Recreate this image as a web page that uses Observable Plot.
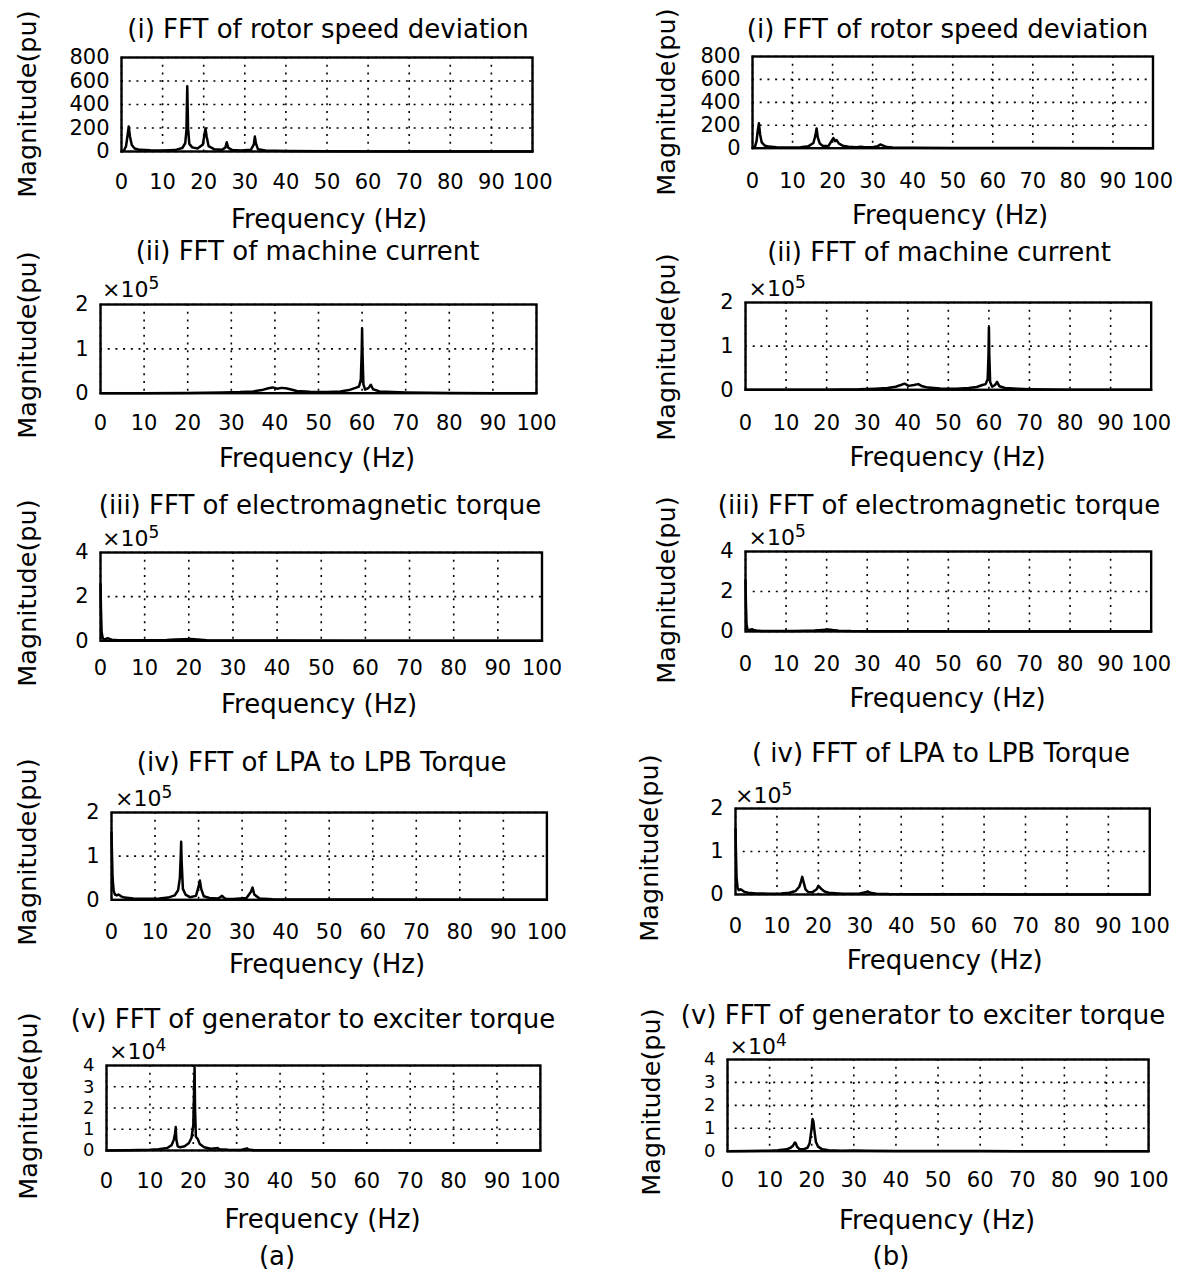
<!DOCTYPE html>
<html>
<head>
<meta charset="utf-8">
<script src="https://cdn.jsdelivr.net/npm/d3@7"></script>
<script src="https://cdn.jsdelivr.net/npm/@observablehq/plot@0.6"></script>
<style>
  html, body { margin: 0; padding: 0; background: #fff; }
  #root { position: relative; width: 1177px; height: 1277px; overflow: hidden; background: #fff;
          font-family: "DejaVu Sans", sans-serif; color: #000; }
  .t { position: absolute; white-space: nowrap; line-height: 1; }
  .sup { font-size: 17px; position: relative; top: -0.45em; line-height: 1; }
</style>
</head>
<body>
<div id="root"></div>
<script>
// ---------------- data ----------------
const freqTicks = [0, 10, 20, 30, 40, 50, 60, 70, 80, 90, 100];

// (i) rotor speed deviation  [Hz, magnitude pu]
const speedA = [[0,0],[0.6,8],[1.1,45],[1.45,130],[1.75,212],[2.05,130],[2.5,55],[3.2,25],[4.5,14],[7,10],[10,8],[13,12],[14.8,30],[15.5,70],[15.8,180],[16.0,556],[16.2,200],[16.5,65],[17.2,35],[18.5,25],[19.8,60],[20.2,150],[20.45,195],[20.7,130],[21.2,45],[22.5,20],[24.5,15],[25.3,35],[25.6,78],[26.0,30],[27,12],[29,8],[31.5,15],[32.2,60],[32.45,127],[32.7,70],[33.2,20],[35,8],[40,4],[50,2],[70,1],[100,0]];
const speedB = [[0,0],[0.6,12],[1.0,60],[1.3,150],[1.6,218],[1.9,120],[2.3,50],[3,24],[4,14],[6,9],[9,7],[12,9],[14,18],[15.2,45],[15.7,110],[16.0,172],[16.3,95],[16.8,40],[17.5,22],[19,20],[19.9,72],[20.2,88],[20.6,62],[21.0,70],[21.6,40],[22.5,22],[24,12],[26,9],[27,12],[28,8],[30,8],[31.3,18],[31.9,32],[32.5,24],[33.5,10],[35,5],[40,3],[50,2],[70,1],[100,0]];

// (ii) machine current
const currentA = [[0,0],[10,0],[20,500],[28,1500],[32,2500],[35,4000],[37,7000],[38.5,11000],[39.5,13000],[40.5,10000],[41.5,12000],[42.5,11000],[43.5,9000],[45,5000],[48,3000],[52,2500],[55,4000],[57,7000],[58.5,12000],[59.3,15000],[59.7,30000],[59.9,90000],[60.0,146000],[60.1,90000],[60.3,20000],[60.7,8000],[61.5,12000],[62.0,19000],[62.5,9000],[64,4000],[67,2500],[70,1500],[75,800],[80,300],[90,100],[100,0]];
const currentB = [[0,0],[10,0],[20,300],[28,1200],[32,2500],[35,4000],[37,7000],[38.3,11000],[39.2,14000],[40.2,9000],[41.5,11000],[42.6,13000],[43.6,8000],[45,5000],[48,3000],[52,2500],[55,4000],[57,6500],[58.4,11000],[59.2,13000],[59.7,25000],[59.9,80000],[60.0,143000],[60.1,80000],[60.3,18000],[60.8,7000],[61.5,11000],[62.0,18000],[62.6,8000],[64,4000],[67,2500],[70,1500],[75,800],[80,300],[90,100],[100,0]];

// (iii) electromagnetic torque
const torqueA = [[0,256000],[0.1,150000],[0.25,40000],[0.5,12000],[0.8,6000],[1.2,8000],[1.6,12000],[2.0,9000],[2.5,5000],[4,3000],[8,2000],[12,2500],[15,4000],[17,6000],[19,7000],[20.5,8000],[22,6000],[24,3000],[28,1500],[40,800],[60,500],[80,300],[100,200]];
const torqueB = [[0,257000],[0.1,140000],[0.25,35000],[0.5,10000],[0.8,6000],[1.2,9000],[1.6,11000],[2.0,8000],[2.6,5000],[4,3000],[8,2000],[12,2500],[15,3500],[17,5000],[19,8000],[20.3,10000],[21.5,7000],[23,4000],[26,2000],[30,1200],[40,700],[60,400],[80,300],[100,200]];

// (iv) LPA to LPB torque
const lpaA = [[0,155000],[0.1,110000],[0.25,50000],[0.5,20000],[0.8,12000],[1.2,10000],[1.6,12000],[2.2,8000],[3,5000],[5,3000],[8,2500],[11,3000],[13,5000],[14.5,10000],[15.3,22000],[15.7,50000],[15.9,100000],[16.0,133000],[16.1,90000],[16.4,25000],[17,12000],[18,6000],[19.4,9000],[20.0,30000],[20.3,44000],[20.6,25000],[21.2,8000],[22.5,4000],[24.5,3000],[25.4,9000],[25.7,6000],[26.2,2500],[28,2000],[31,4000],[32.0,18000],[32.4,28000],[32.8,12000],[34,3000],[37,1500],[45,800],[60,400],[100,0]];
const lpaB = [[0,153000],[0.1,100000],[0.25,40000],[0.5,15000],[0.8,10000],[1.2,12000],[1.6,10000],[2.2,6000],[3,4000],[5,2500],[8,2000],[11,2500],[13,4000],[14.5,8000],[15.4,18000],[15.8,30000],[16.1,41000],[16.4,30000],[16.9,12000],[17.5,6000],[18.5,5000],[19.6,12000],[20.0,20000],[20.3,17000],[20.8,12000],[21.5,7000],[22.5,4000],[24,3000],[26,2000],[28,1500],[30,2500],[31.4,5000],[31.9,7000],[32.5,4000],[34,2000],[37,1000],[45,500],[60,300],[100,0]];

// (v) generator to exciter torque
const genA = [[0,0],[5,100],[10,300],[12,600],[14,1200],[15,2500],[15.5,5000],[15.8,8000],[15.95,11000],[16.1,5000],[16.4,2000],[17,1500],[18,2000],[19,3500],[19.6,6000],[20.0,12000],[20.2,30000],[20.3,39000],[20.4,20000],[20.6,6500],[21.0,5500],[21.5,3000],[22.5,1500],[24,800],[25.3,1000],[25.6,1200],[26,600],[28,300],[31,200],[32.4,1000],[32.7,500],[34,150],[40,80],[60,30],[100,0]];
const genB = [[0,0],[5,50],[10,200],[12,400],[14,800],[15,1500],[15.6,2500],[16.0,3800],[16.2,3500],[16.5,2000],[17,1000],[18,800],[19,1500],[19.5,3500],[19.9,9000],[20.2,14000],[20.4,13000],[20.7,8000],[21.0,4000],[21.5,2000],[22.5,800],[24,400],[27,200],[30,300],[33,200],[40,80],[60,30],[100,0]];

const yTicks800 = [0, 200, 400, 600, 800];
const yTicks2e5 = [0, 100000, 200000];
const yTicks4e5 = [0, 200000, 400000];
const yTicks4e4 = [0, 10000, 20000, 30000, 40000];

const titles = ["(i) FFT of rotor speed deviation", "(ii) FFT of machine current",
  "(iii) FFT of electromagnetic torque", "(iv) FFT of LPA to LPB Torque", "( iv) FFT of LPA to LPB Torque",
  "(v) FFT of generator to exciter torque"];
const xLabel = "Frequency (Hz)";
const yLabel = "Magnitude(pu)";
const captions = ["(a)", "(b)"];

// ---------------- layout ----------------
const panels = [
  {data: speedA, yMax: 800, yTicks: yTicks800, div: 1, exp: null, frame: [121, 532, 57, 151], xTickY: 181, yFont: 21,
   title: titles[0], titleXY: [328, 29], freqXY: [329, 218.5], magXY: [28, 103.5]},
  {data: speedB, yMax: 800, yTicks: yTicks800, div: 1, exp: null, frame: [751.5, 1152, 56, 147.7], xTickY: 180, yFont: 21,
   title: titles[0], titleXY: [947.5, 29], freqXY: [950, 215], magXY: [667, 102]},
  {data: currentA, yMax: 200000, yTicks: yTicks2e5, div: 1e5, exp: "5", expXY: [102, 289.5], frame: [100, 536, 304, 392.7], xTickY: 422, yFont: 21,
   title: titles[1], titleXY: [307.5, 251], freqXY: [317, 457.5], magXY: [28, 345]},
  {data: currentB, yMax: 200000, yTicks: yTicks2e5, div: 1e5, exp: "5", expXY: [748.5, 289], frame: [744.7, 1150.4, 301.7, 389], xTickY: 421.7, yFont: 21,
   title: titles[1], titleXY: [939, 252], freqXY: [947.5, 456.5], magXY: [667, 347]},
  {data: torqueA, yMax: 400000, yTicks: yTicks4e5, div: 1e5, exp: "5", expXY: [102, 539], frame: [100, 541.5, 551.7, 640], xTickY: 667, yFont: 21,
   title: titles[2], titleXY: [320, 505], freqXY: [319, 704], magXY: [28, 593]},
  {data: torqueB, yMax: 400000, yTicks: yTicks4e5, div: 1e5, exp: "5", expXY: [748.5, 538], frame: [744.7, 1150.4, 551, 631], xTickY: 663, yFont: 21,
   title: titles[2], titleXY: [939, 505], freqXY: [947.5, 698], magXY: [667, 590]},
  {data: lpaA, yMax: 200000, yTicks: yTicks2e5, div: 1e5, exp: "5", expXY: [115, 799], frame: [110.6, 546, 811.7, 899], xTickY: 930.7, yFont: 21,
   title: titles[3], titleXY: [321.7, 762], freqXY: [327, 964], magXY: [28, 852]},
  {data: lpaB, yMax: 200000, yTicks: yTicks2e5, div: 1e5, exp: "5", expXY: [735, 795.5], frame: [735.3, 1149.6, 808, 894], xTickY: 925.7, yFont: 21,
   title: titles[4], titleXY: [941, 753], freqXY: [944.7, 960], magXY: [650, 848]},
  {data: genA, yMax: 40000, yTicks: yTicks4e4, div: 1e4, exp: "4", expXY: [109, 1052], frame: [105.7, 539.6, 1065, 1150], xTickY: 1180, yFont: 18,
   title: titles[5], titleXY: [313, 1019], freqXY: [322.6, 1219], magXY: [29, 1106]},
  {data: genB, yMax: 40000, yTicks: yTicks4e4, div: 1e4, exp: "4", expXY: [729.6, 1047], frame: [726.6, 1147.7, 1059, 1150.7], xTickY: 1179.5, yFont: 18,
   title: titles[5], titleXY: [923, 1015], freqXY: [937, 1220], magXY: [652, 1102]}
];

const FONT = '"DejaVu Sans", sans-serif';
const INK = "#000";
const root = document.getElementById("root");

function addText(html, x, y, size, mode) {
  const d = document.createElement("div");
  d.className = "t";
  d.innerHTML = html;
  d.style.left = x + "px";
  d.style.top = y + "px";
  d.style.fontSize = size + "px";
  if (mode === "rot") d.style.transform = "translate(-50%,-50%) rotate(-90deg)";
  else if (mode === "left") d.style.transform = "translate(0,-50%)";
  else d.style.transform = "translate(-50%,-50%)";
  root.appendChild(d);
}

for (const p of panels) {
  const [x0, x1, y0, y1] = p.frame;
  const mL = 62, mR = 32, mT = 8;
  const pad = p.xTickY - y1 - 7.7;
  const mB = Math.ceil(pad + 26);
  const rows = p.data.map(([f, m]) => ({f, m}));
  const chart = Plot.plot({
    width: (x1 - x0) + mL + mR,
    height: (y1 - y0) + mT + mB,
    marginLeft: mL, marginRight: mR, marginTop: mT, marginBottom: mB,
    style: {fontFamily: FONT, fontSize: "21px", color: INK, background: "none", overflow: "visible"},
    x: {domain: [0, 100]},
    y: {domain: [0, p.yMax]},
    marks: [
      Plot.gridX(freqTicks, {stroke: INK, strokeOpacity: 1, strokeWidth: 1.6, strokeDasharray: "2,5.7"}),
      Plot.gridY(p.yTicks, {stroke: INK, strokeOpacity: 1, strokeWidth: 1.6, strokeDasharray: "2,5.7"}),
      Plot.axisX({ticks: freqTicks, tickSize: 0, tickPadding: pad, label: null, fontSize: 21, fill: INK, tickFormat: d => String(d)}),
      Plot.axisY({ticks: p.yTicks, tickSize: 0, tickPadding: 12, label: null, fontSize: p.yFont, fill: INK, tickFormat: d => String(Math.round(d / p.div))}),
      Plot.line(rows, {x: "f", y: "m", stroke: INK, strokeWidth: 2.5, strokeLinejoin: "round"}),
      Plot.frame({stroke: INK, strokeWidth: 2.4})
    ]
  });
  chart.style.position = "absolute";
  chart.style.left = (x0 - mL) + "px";
  chart.style.top = (y0 - mT) + "px";
  chart.style.maxWidth = "none";
  root.appendChild(chart);
}

for (const p of panels) {
  addText(p.title, p.titleXY[0], p.titleXY[1], 26, "center");
  addText(xLabel, p.freqXY[0], p.freqXY[1], 26, "center");
  addText(yLabel, p.magXY[0], p.magXY[1], 25.5, "rot");
  if (p.exp) addText("×10<span class=\"sup\">" + p.exp + "</span>", p.expXY[0], p.expXY[1], 22, "left");
}
addText(captions[0], 277, 1256, 26, "center");
addText(captions[1], 891, 1256, 26, "center");
</script>
</body>
</html>
